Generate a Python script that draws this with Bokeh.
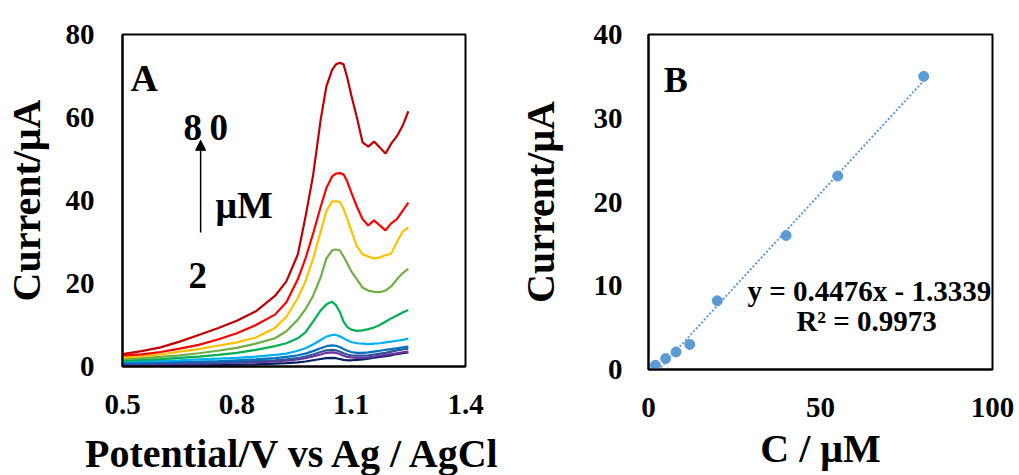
from bokeh.plotting import figure
from bokeh.layouts import row
from bokeh.models import Range1d, FixedTicker, Label, Arrow, NormalHead
from bokeh.embed import file_html
from bokeh.resources import INLINE

# ---------------- Panel A data (DPV curves) ----------------
potential = [0.50, 0.55, 0.60, 0.65, 0.70, 0.75, 0.80, 0.85, 0.90, 0.93, 0.96, 0.98,
             1.00, 1.02, 1.035, 1.05, 1.06, 1.07, 1.08, 1.09, 1.10, 1.115, 1.13, 1.145,
             1.16, 1.175, 1.19, 1.205, 1.22, 1.235, 1.25]

i_darkred = [3.0, 3.7, 4.6, 6.0, 7.6, 9.2, 11.0, 13.3, 17.0, 20.5, 27.0, 36.0,
             46.0, 59.5, 67.5, 71.5, 72.8, 73.2, 72.8, 69.5, 65.5, 60.0, 54.0, 53.0,
             54.2, 52.8, 51.3, 53.7, 55.5, 58.0, 61.5]
i_red = [2.7, 2.9, 3.5, 4.3, 5.2, 6.5, 8.0, 10.0, 12.5, 15.5, 21.0, 26.0,
         32.0, 38.5, 43.0, 45.8, 46.5, 46.6, 46.3, 44.5, 42.0, 38.5, 35.5, 34.0,
         35.2, 34.0, 32.8, 34.5, 35.5, 37.5, 39.5]
i_orange = [2.2, 2.5, 2.9, 3.6, 4.2, 5.0, 5.8, 7.0, 9.3, 12.0, 16.5, 20.5,
            26.0, 32.5, 37.5, 39.8, 39.8, 39.7, 38.0, 35.5, 32.8, 29.0, 27.0, 26.5,
            26.0, 26.3, 26.8, 27.2, 30.0, 32.5, 33.5]
i_lightgreen = [1.8, 2.0, 2.3, 2.7, 3.2, 3.8, 4.5, 5.5, 6.8, 8.5, 11.3, 13.8,
                17.0, 21.5, 26.0, 28.0, 28.2, 28.0, 26.5, 24.8, 23.0, 21.0, 19.0, 18.3,
                18.0, 17.9, 18.3, 19.3, 21.0, 22.5, 23.5]
i_green = [1.4, 1.6, 1.8, 2.1, 2.4, 2.8, 3.3, 4.0, 4.9, 5.6, 6.8, 8.2,
           10.8, 13.5, 15.0, 15.6, 14.8, 13.2, 10.8, 9.5, 8.9, 8.6, 8.7, 9.0,
           9.4, 10.0, 10.8, 11.6, 12.3, 13.0, 13.6]
i_lightblue = [1.2, 1.3, 1.4, 1.5, 1.7, 1.9, 2.1, 2.4, 2.8, 3.1, 3.8, 4.4,
               5.3, 6.4, 7.2, 7.6, 7.6, 7.3, 6.8, 6.3, 5.9, 5.6, 5.5, 5.4,
               5.5, 5.6, 5.8, 6.0, 6.2, 6.4, 6.7]
i_blue = [0.9, 0.95, 1.0, 1.1, 1.2, 1.3, 1.5, 1.7, 2.0, 2.3, 2.7, 3.1,
          3.7, 4.4, 4.9, 5.1, 5.0, 4.7, 4.2, 3.8, 3.5, 3.3, 3.3, 3.4,
          3.6, 3.8, 4.0, 4.2, 4.4, 4.6, 4.8]
i_steel = [0.7, 0.75, 0.8, 0.85, 0.9, 1.0, 1.1, 1.3, 1.5, 1.7, 2.0, 2.4,
           2.9, 3.5, 3.9, 4.0, 3.9, 3.6, 3.2, 2.9, 2.7, 2.6, 2.6, 2.7,
           2.9, 3.1, 3.3, 3.6, 3.9, 4.1, 4.3]
i_purple = [0.5, 0.55, 0.6, 0.65, 0.7, 0.8, 0.9, 1.0, 1.2, 1.4, 1.7, 2.0,
            2.4, 2.9, 3.3, 3.4, 3.3, 3.0, 2.6, 2.3, 2.2, 2.1, 2.1, 2.2,
            2.4, 2.6, 2.8, 3.0, 3.2, 3.4, 3.6]
i_navy = [0.2, 0.25, 0.3, 0.3, 0.35, 0.4, 0.45, 0.5, 0.7, 0.8, 1.0, 1.2,
          1.5, 1.8, 2.0, 2.1, 2.0, 1.8, 1.6, 1.5, 1.5, 1.6, 1.7, 1.9,
          2.1, 2.3, 2.5, 2.7, 3.0, 3.2, 3.4]

curves = [i_navy, i_purple, i_steel, i_blue, i_lightblue, i_green,
          i_lightgreen, i_orange, i_red, i_darkred]
curve_colors = ["#002060", "#7030A0", "#2F5597", "#0070C0", "#00B0F0", "#00B050",
                "#70AD47", "#FFC000", "#FF0000", "#C00000"]

a_xticks = [0.5, 0.8, 1.1, 1.4]
a_yticks = [0, 20, 40, 60, 80]

# ---------------- Panel B data (calibration) ----------------
conc = [2, 5, 8, 12, 20, 40, 55, 80]
peak_current = [0.5, 1.3, 2.1, 3.0, 8.2, 16.0, 23.1, 35.0]
fit_slope = 0.4476
fit_intercept = -1.3339
fit_r2 = 0.9973

b_xticks = [0, 50, 100]
b_yticks = [0, 10, 20, 30, 40]

FONT = "Liberation Serif"


def style(p):
    p.outline_line_color = "black"
    p.outline_line_width = 2
    p.xgrid.visible = False
    p.ygrid.visible = False
    p.background_fill_color = "white"
    p.border_fill_color = "white"
    for ax in (p.xaxis[0], p.yaxis[0]):
        ax.axis_line_color = "black"
        ax.axis_line_width = 2
        ax.major_tick_line_color = None
        ax.minor_tick_line_color = None
        ax.major_tick_out = 0
        ax.major_tick_in = 0
        ax.major_label_text_font = FONT
        ax.major_label_text_font_style = "bold"
        ax.major_label_text_font_size = "29px"
        ax.major_label_text_color = "black"
        ax.axis_label_text_font = FONT
        ax.axis_label_text_font_style = "bold"
        ax.axis_label_text_font_size = "40px"
        ax.axis_label_text_color = "black"


# ---------------- Panel A ----------------
pA = figure(frame_width=343, frame_height=332, output_backend="svg", toolbar_location=None,
            x_range=Range1d(0.5, 1.4), y_range=Range1d(0, 80),
            min_border_left=114, min_border_right=40, min_border_top=34, min_border_bottom=109)
style(pA)
pA.xaxis.ticker = FixedTicker(ticks=a_xticks)
pA.yaxis.ticker = FixedTicker(ticks=a_yticks)
pA.xaxis.axis_label = "Potential/V vs Ag / AgCl"
pA.yaxis.axis_label = "Current/μA"
pA.xaxis.major_label_standoff = 28
pA.yaxis.major_label_standoff = 28
pA.xaxis.axis_label_standoff = 14
pA.yaxis.axis_label_standoff = 14

for ys, c in zip(curves, curve_colors):
    pA.line(potential, ys, line_color=c, line_width=2.2)

pA.add_layout(Label(x=0.521, y=69.6, text="A", text_font=FONT, text_font_style="bold",
                    text_font_size="38px", text_baseline="alphabetic", text_color="black"))
pA.add_layout(Label(x=0.660, y=57.6, text="8\u20090", text_font=FONT, text_font_style="bold",
                    text_font_size="37px", text_baseline="alphabetic", text_color="black"))
pA.add_layout(Label(x=0.744, y=39.0, text="μM", text_font=FONT, text_font_style="bold",
                    text_font_size="38px", text_baseline="alphabetic", text_color="black"))
pA.add_layout(Label(x=0.673, y=21.9, text="2", text_font=FONT, text_font_style="bold",
                    text_font_size="37px", text_baseline="alphabetic", text_color="black"))
pA.add_layout(Arrow(end=NormalHead(size=10, fill_color="black", line_color="black"),
                    x_start=0.705, y_start=32.3, x_end=0.705, y_end=54.5,
                    line_width=1.5, line_color="black"))

# ---------------- Panel B ----------------
pB = figure(frame_width=344, frame_height=335, output_backend="svg", toolbar_location=None,
            x_range=Range1d(0, 100), y_range=Range1d(0, 40),
            min_border_left=143, min_border_right=25, min_border_top=30, min_border_bottom=110)
style(pB)
pB.xaxis.ticker = FixedTicker(ticks=b_xticks)
pB.yaxis.ticker = FixedTicker(ticks=b_yticks)
pB.xaxis.axis_label = "C / μM"
pB.yaxis.axis_label = "Current/μA"
pB.xaxis.major_label_standoff = 28
pB.yaxis.major_label_standoff = 26
pB.xaxis.axis_label_standoff = 6
pB.yaxis.axis_label_standoff = 28

fit_x = [conc[0], conc[-1]]
fit_y = [fit_slope * v + fit_intercept for v in fit_x]
pB.line(fit_x, fit_y, line_color="#5B9BD5", line_width=2, line_dash="2 2")
pB.scatter(conc, peak_current, size=10, fill_color="#5B9BD5", line_color="#5B9BD5")

pB.add_layout(Label(x=4.4, y=34.6, text="B", text_font=FONT, text_font_style="bold",
                    text_font_size="36px", text_baseline="alphabetic", text_color="black"))
pB.add_layout(Label(x=64.2, y=9.35, text="y = %.4fx - %.4f" % (fit_slope, -fit_intercept),
                    text_font=FONT, text_font_style="bold", text_font_size="29px",
                    text_align="center", text_baseline="alphabetic", text_color="black"))
pB.add_layout(Label(x=63.4, y=5.77, text="R² = %.4f" % fit_r2,
                    text_font=FONT, text_font_style="bold", text_font_size="29px",
                    text_align="center", text_baseline="alphabetic", text_color="black"))

layout = row(pA, pB)
open("out.html", "w").write(file_html(layout, INLINE))
